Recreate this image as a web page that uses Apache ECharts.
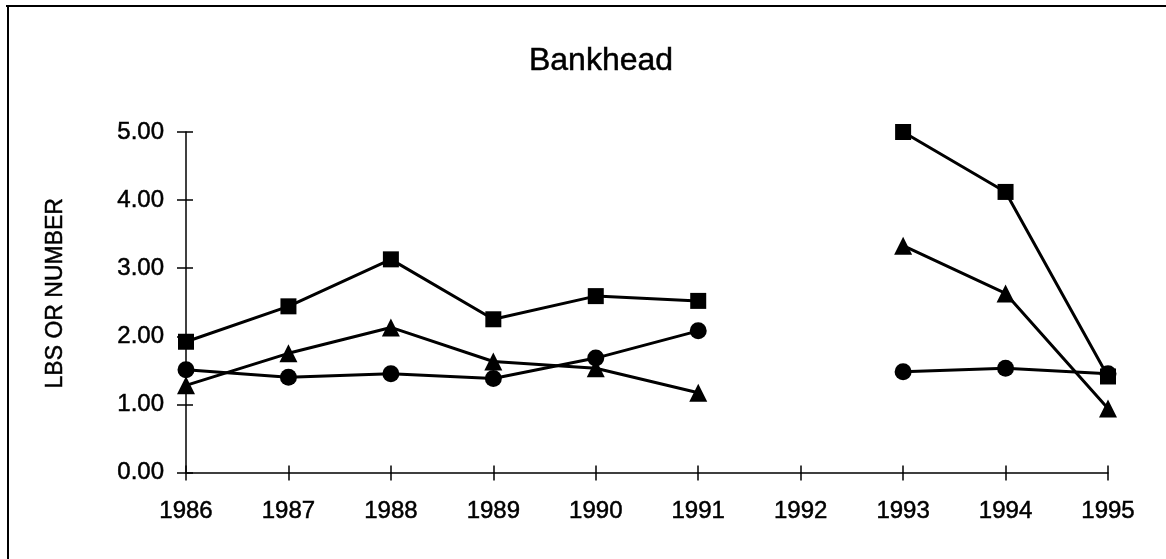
<!DOCTYPE html>
<html>
<head>
<meta charset="utf-8">
<script src="https://cdn.jsdelivr.net/npm/echarts@6/dist/echarts.min.js"></script>
<style>
  html, body { margin: 0; padding: 0; background: #fff; }
  #chart { width: 1166px; height: 559px; }
</style>
</head>
<body>
<div id="chart"></div>
<script>
// years on the x axis, 1992 has no data
var years = ['1986', '1987', '1988', '1989', '1990', '1991', '1992', '1993', '1994', '1995'];
var squareVals = [1.92, 2.44, 3.13, 2.25, 2.59, 2.52, null, 5.00, 4.12, 1.41];
var triangleVals = [1.28, 1.75, 2.13, 1.63, 1.53, 1.17, null, 3.33, 2.63, 0.94];
var circleVals = [1.51, 1.40, 1.45, 1.38, 1.68, 2.08, null, 1.48, 1.53, 1.45];
var yMin = 0, yMax = 5, yStep = 1;

var font = 'Liberation Sans, Arial, sans-serif';
var chart = echarts.init(document.getElementById('chart'));

// scanned text is a bit heavy, thicken it a little
var textLook = { color: '#000', fontFamily: font, textBorderColor: '#000', textBorderWidth: 0.5 };

var lineSeries = function (name, data, symbol, size) {
  return {
    name: name,
    type: 'line',
    data: data,
    connectNulls: false,
    symbol: symbol,
    symbolSize: size,
    showAllSymbol: true,
    lineStyle: { color: '#000', width: 3 },
    itemStyle: { color: '#000' },
    animation: false
  };
};

var option = {
  backgroundColor: '#fff',
  title: {
    text: 'Bankhead',
    left: 596,
    top: 40,
    textAlign: 'center',
    textStyle: Object.assign({ fontSize: 32, fontWeight: 'normal' }, textLook)
  },
  grid: { left: 186, right: 58, top: 132, bottom: 86.5 },
  xAxis: [{
    type: 'category',
    data: years,
    boundaryGap: false,
    axisLine: { lineStyle: { color: '#000', width: 1.5 } },
    axisTick: { length: 8, lineStyle: { color: '#000', width: 1.5 } },
    axisLabel: Object.assign({ fontSize: 24, margin: 27 }, textLook),
    splitLine: { show: false }
  }, {
    type: 'category',
    data: years,
    boundaryGap: false,
    position: 'bottom',
    axisLine: { show: false },
    axisTick: { inside: true, length: 7, lineStyle: { color: '#000', width: 1.5 } },
    axisLabel: { show: false },
    splitLine: { show: false }
  }],
  yAxis: [{
    type: 'value',
    min: yMin,
    max: yMax,
    interval: yStep,
    name: 'LBS OR NUMBER',
    nameLocation: 'middle',
    nameGap: 119,
    nameTextStyle: Object.assign({ fontSize: 23, padding: [0, 0, 0, 18] }, textLook),
    axisLine: { show: true, lineStyle: { color: '#000', width: 1.5 } },
    axisTick: { show: true, length: 9, lineStyle: { color: '#000', width: 1.5 } },
    axisLabel: Object.assign({
      fontSize: 24, margin: 22,
      formatter: function (v) { return v.toFixed(2); }
    }, textLook),
    splitLine: { show: false }
  }, {
    type: 'value',
    min: yMin,
    max: yMax,
    interval: yStep,
    position: 'left',
    axisLine: { show: false },
    axisTick: { show: true, inside: true, length: 7, lineStyle: { color: '#000', width: 1.5 } },
    axisLabel: { show: false },
    splitLine: { show: false }
  }],
  graphic: [
    { type: 'line', shape: { x1: 6, y1: 6, x2: 1166, y2: 6 }, style: { stroke: '#000', lineWidth: 2 } },
    { type: 'line', shape: { x1: 8, y1: 6, x2: 8, y2: 559 }, style: { stroke: '#000', lineWidth: 2 } }
  ],
  series: [
    lineSeries('circles', circleVals, 'circle', 17),
    lineSeries('triangles', triangleVals, 'triangle', 18),
    lineSeries('squares', squareVals, 'rect', 16)
  ]
};

chart.setOption(option);
</script>
</body>
</html>
